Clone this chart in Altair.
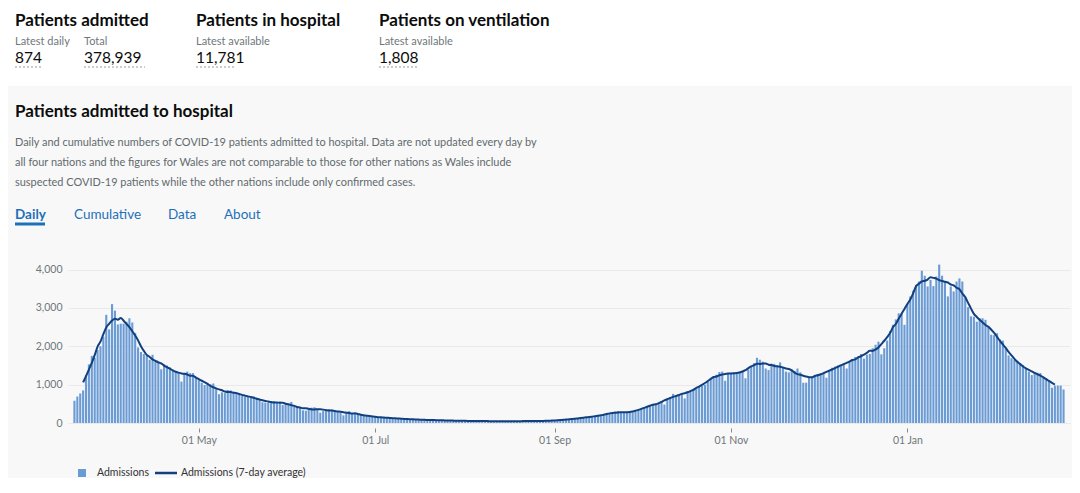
import altair as alt
import pandas as pd

# ---- data (daily admissions, UK) ----
start_date = "2020-03-19"
wave1 = [580, 690, 770, 850, 1250, 1530, 1750, 1700, 1900, 2000,
         2250, 2820, 2440, 3100, 2930, 2570, 2590, 2590, 2640, 2730,
         2620, 2350, 1970, 1850, 1800, 1760, 1650, 1780, 1620, 1600,
         1400, 1530, 1500, 1450, 1370, 1330, 1330, 1080, 1290, 1340,
         1300, 1300, 1200, 1120, 1050, 990, 1040, 1010, 1030, 900,
         750, 800, 780, 860, 850, 810, 800, 740, 700, 690,
         700, 680, 690, 660, 640]
late_spring = [540, 530, 530, 560, 570, 540, 560, 470, 520, 470,
               550, 420, 430, 400, 330, 320, 380, 400, 410, 370,
               270, 320, 360, 360, 350, 320, 310, 280, 200, 290,
               310, 260, 240, 230, 220, 210, 190, 170, 160, 160,
               150, 150, 140, 140, 130, 125, 120, 115]
summer = [110, 112, 100, 96, 98, 90, 86, 84, 88, 80,
          76, 78, 74, 70, 72, 68, 64, 66, 62, 58,
          60, 56, 55, 58, 53, 50, 54, 52, 48, 50,
          47, 52, 50, 46, 44, 50, 52, 48, 46, 44,
          50, 52, 48, 45, 50, 54, 55, 50, 47, 54,
          58, 62, 58, 64, 70, 74, 80, 86]
autumn = [95, 105, 110, 120, 125, 135, 150, 160, 170, 175,
          180, 195, 210, 230, 250, 260, 300, 310, 280, 260,
          270, 270, 280, 300, 340, 380, 400, 430, 440, 470,
          500, 530, 560, 480, 640, 660, 760, 720, 740, 770,
          640, 830, 850, 880, 900, 960, 980, 1000, 1080, 1180,
          1200, 1260, 1330, 1340, 1100, 1300, 1310, 1320, 1330,
          1340, 1360, 1165, 1400, 1480, 1560, 1700, 1650, 1600, 1420,
          1380, 1550, 1540, 1500, 1580, 1450, 1340, 1320, 1400, 1360,
          1420, 1320, 1050, 1050, 1200, 1210, 1240, 1280, 1300, 1300,
          1180, 1360, 1440, 1470, 1500, 1520, 1560, 1420, 1600, 1660,
          1720, 1740, 1800, 1680, 1780, 1800, 1950, 2040, 2120, 1790,
          1950, 2150, 2400, 2560, 2700, 2860]
winter = [2850, 2560, 3100, 3300, 3450, 3600, 3690, 3970, 3840, 3560,
          3730, 3570, 3820, 4130, 3840, 3690, 3300, 3560, 3430, 3690,
          3770, 3690, 3250, 3020, 2780, 2770, 2640, 2730, 2730, 2690,
          2500, 2300, 2290, 2340, 2180, 2150, 1950, 1760, 1690, 1640,
          1600, 1560, 1510, 1410, 1340, 1250, 1310, 1310, 1300, 1210,
          1165, 1120, 920, 975, 975, 975, 874]

admissions = wave1 + late_spring + summer + autumn + winter
dates = pd.date_range(start_date, periods=len(admissions), freq="D").strftime("%Y-%m-%d").tolist()
df = pd.DataFrame({"date": dates, "admissions": admissions})

y_ticks = [0, 1000, 2000, 3000, 4000]
x_tick_dates = [(2020, 5, 1), (2020, 7, 1), (2020, 9, 1), (2020, 11, 1), (2021, 1, 1)]
x_domain = [(2020, 3, 18, 12), (2021, 2, 24, 12)]

series_names = ["Admissions", "Admissions (7-day average)"]

headline_titles = ["Patients admitted", "Patients in hospital", "Patients on ventilation"]
headline_labels = ["Latest daily", "Total", "Latest available", "Latest available"]
headline_values = ["874", "378,939", "11,781", "1,808"]
section_title = "Patients admitted to hospital"
description = [
    "Daily and cumulative numbers of COVID-19 patients admitted to hospital. Data are not updated every day by",
    "all four nations and the figures for Wales are not comparable to those for other nations as Wales include",
    "suspected COVID-19 patients while the other nations include only confirmed cases.",
]
tabs = ["Daily", "Cumulative", "Data", "About"]

# ---- styling ----
FONT = "Lato"
BAR = "#6a9bd4"
LINE = "#12407f"
BLUE = "#1d70b8"
DARK = "#0b0c0c"
GREY = "#6f777b"

one = pd.DataFrame({"k": [0]})


def label(txt, px, py, size, color, weight="normal"):
    return alt.Chart(one).mark_text(
        text=txt, align="left", baseline="middle", fontSize=size,
        color=color, fontWeight=weight, font=FONT
    ).encode(x=alt.value(px), y=alt.value(py))


def hrule(x1, x2, yy, color, width=1, dash=None):
    kw = dict(color=color, strokeWidth=width)
    if dash:
        kw["strokeDash"] = dash
    return alt.Chart(one).mark_rule(**kw).encode(
        x=alt.value(x1), x2=alt.value(x2), y=alt.value(yy))


def dt(t):
    if len(t) == 4:
        return alt.DateTime(year=t[0], month=t[1], date=t[2], hours=t[3], utc=True)
    return alt.DateTime(year=t[0], month=t[1], date=t[2], utc=True)


x_enc = alt.X(
    "date:T",
    scale=alt.Scale(type="utc", domain=[dt(d) for d in x_domain]),
    axis=alt.Axis(values=[dt(d) for d in x_tick_dates], format="%d %b", title=None,
                  domain=False, grid=False, tickSize=4, tickColor="#8a8a8a", offset=5,
                  labelPadding=3, labelFont=FONT, labelFontSize=10.5, labelColor=GREY),
)
y_enc = alt.Y(
    "admissions:Q",
    scale=alt.Scale(domain=[0, 4250], nice=False),
    axis=alt.Axis(values=y_ticks, format=",d", title=None, domain=False, ticks=False,
                  labelPadding=6, gridColor="#e9e9e9", labelFont=FONT,
                  labelFontSize=10.5, labelColor=GREY),
)

bars = alt.Chart(df).mark_bar(size=2.1, color=BAR).encode(x=x_enc, y=y_enc)

avg_line = alt.Chart(df).transform_window(
    avg="mean(admissions)", cnt="count()", frame=[-3, 3], sort=[alt.SortField("date")]
).transform_filter("datum.cnt == 7").mark_line(
    color=LINE, strokeWidth=2, interpolate="monotone"
).encode(x="date:T", y="avg:Q")

# top white strip (headline area)
top_bg = alt.Chart(one).mark_rect(color="white").encode(
    x=alt.value(-68), x2=alt.value(1004), y=alt.value(-260), y2=alt.value(-174))

layers = [top_bg]
# headline block
for t, px in zip(headline_titles, [-53, 128, 311]):
    layers.append(label(t, px, -239, 17, DARK, "bold"))
for t, px in zip(headline_labels, [-53, 16, 128, 311]):
    layers.append(label(t, px, -218, 11, GREY))
for t, px in zip(headline_values, [-53, 16, 128, 311]):
    layers.append(label(t, px, -202, 15.5, DARK))
for x1, x2 in [(-53, -26), (16, 77), (128, 168), (311, 350)]:
    layers.append(hrule(x1, x2, -193, "#9a9a9a", 1, [2, 2]))

# section header
layers.append(label(section_title, -53, -148, 17, DARK, "bold"))
for i, line in enumerate(description):
    layers.append(label(line, -53, -117 + 20 * i, 10.95, "#626a6e"))
for t, px in zip(tabs, [-53, 6, 100, 156]):
    layers.append(label(t, px, -45, 13.5, BLUE, "bold" if t == "Daily" else "normal"))
layers.append(hrule(-53, -23, -36, BLUE, 3))

# chart
layers += [bars, avg_line]

# legend
ly = 213
layers.append(alt.Chart(one).mark_rect(color=BAR).encode(
    x=alt.value(10), x2=alt.value(18), y=alt.value(ly - 4), y2=alt.value(ly + 4)))
layers.append(label(series_names[0], 29, ly, 10.5, "#333333"))
layers.append(hrule(87, 109, ly, LINE, 2.5))
layers.append(label(series_names[1], 113, ly, 10.5, "#333333"))

chart = alt.layer(*layers).properties(
    width=1002, height=163,
    autosize=alt.AutoSizeParams(type="none"),
    padding={"left": 60, "top": 252, "right": 2, "bottom": 55},
    background="#f8f8f8",
).configure_view(stroke=None)

chart.save("out.html", embed_options={"renderer": "svg", "actions": False})
